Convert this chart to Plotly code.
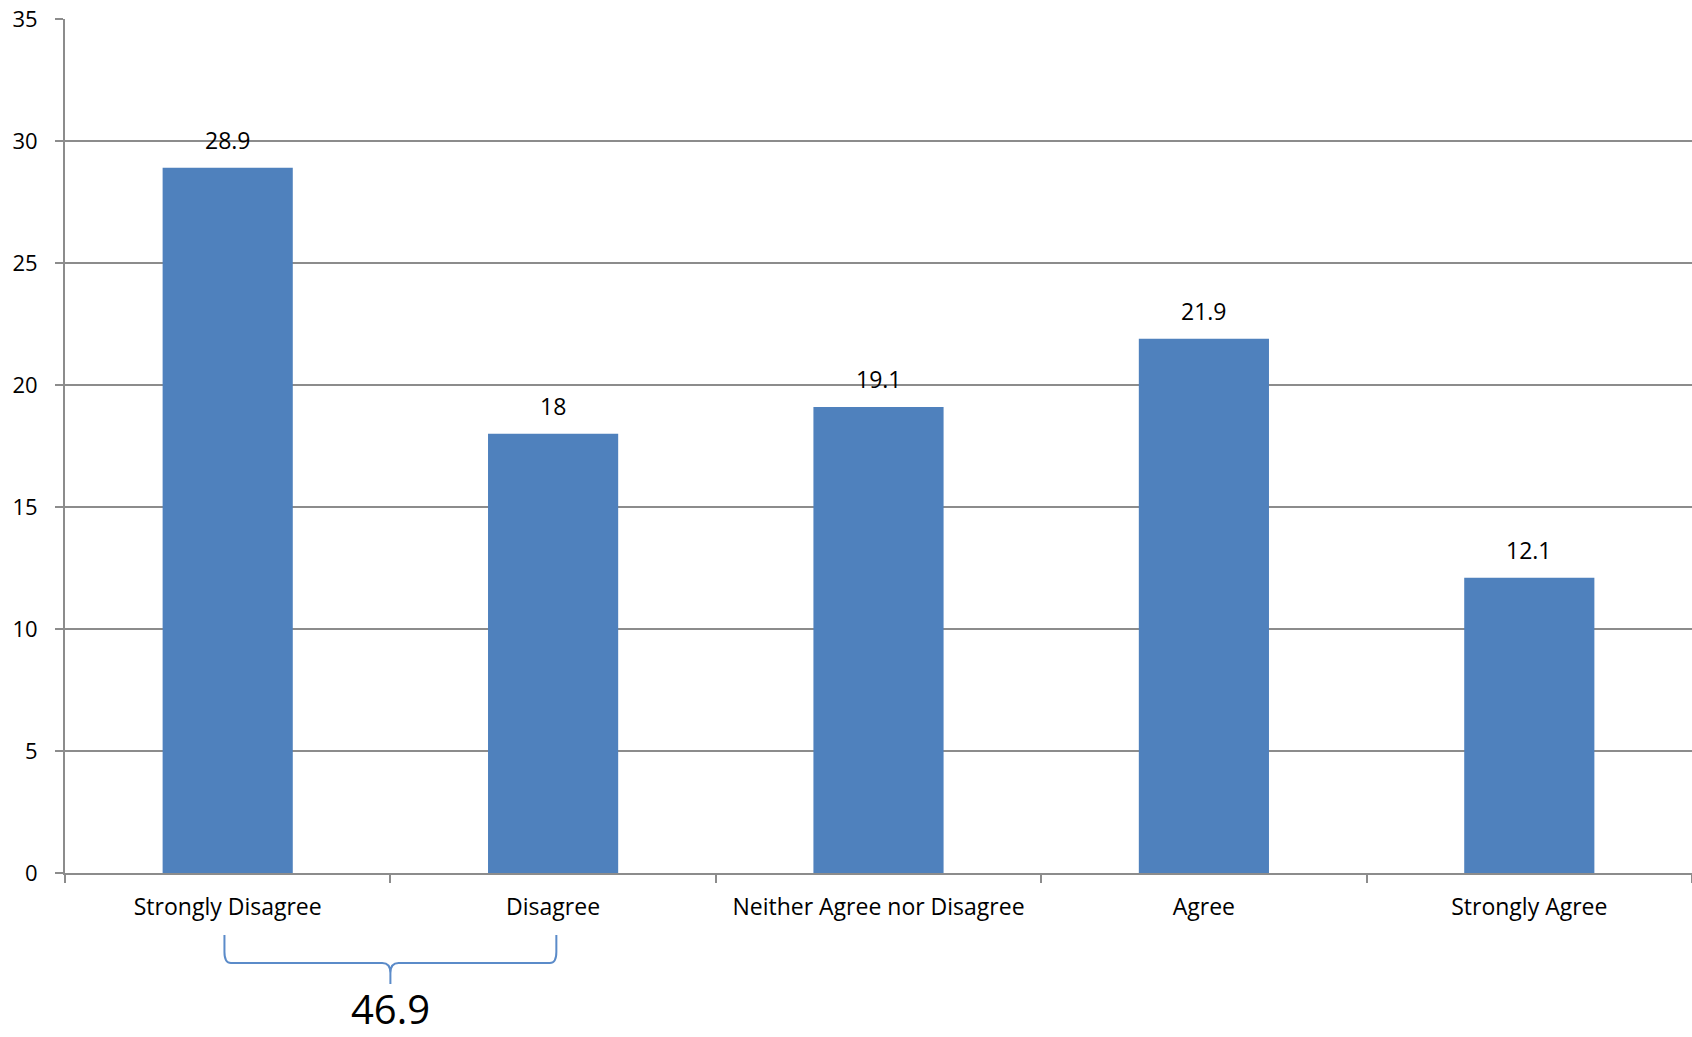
import plotly.graph_objects as go

# Survey response distribution (percent)
categories = ["Strongly Disagree", "Disagree", "Neither Agree nor Disagree", "Agree", "Strongly Agree"]
percentages = [28.9, 18, 19.1, 21.9, 12.1]
combined_label = "46.9"  # Strongly Disagree + Disagree
y_ticks = [0, 5, 10, 15, 20, 25, 30, 35]

W, H = 1692, 1037
M_L, M_R, M_T, M_B = 65, 0, 19, 164
plot_h = H - M_T - M_B

BAR_COLOR = "#4F81BD"
GRID_COLOR = "#8C8C8C"
FONT = "Open Sans"

def py(pix_below_axis):
    """Paper y coordinate for a pixel offset below the x axis."""
    return -pix_below_axis / plot_h

fig = go.Figure()
fig.add_trace(go.Bar(
    x=categories,
    y=percentages,
    marker=dict(color=BAR_COLOR, line=dict(width=0)),
    width=0.4,
    hoverinfo="x+y",
))

# Value labels above the bars
for c, v in zip(categories, percentages):
    fig.add_annotation(
        x=c, y=v, text=f"{v:g}", showarrow=False,
        yanchor="bottom", yshift=10,
        font=dict(family=FONT, size=23, color="#000000"),
    )

# Curly brace grouping the two disagree categories
x0, x1 = -0.01, 1.01
xc = 0.5
y_top, y_mid, y_bot = py(62), py(90), py(111)
dxe = 0.02
dxc = 0.025
r = py(79)
path = (
    f"M {x0},{y_top} L {x0},{r} Q {x0},{y_mid} {x0 + dxe},{y_mid} "
    f"L {xc - dxc},{y_mid} Q {xc},{y_mid} {xc},{py(100)} L {xc},{y_bot} "
    f"M {xc},{py(100)} Q {xc},{y_mid} {xc + dxc},{y_mid} "
    f"L {x1 - dxe},{y_mid} Q {x1},{y_mid} {x1},{r} L {x1},{y_top}"
)
fig.add_shape(
    type="path", path=path, xref="x", yref="paper",
    line=dict(color="#5B8BC9", width=2),
)
fig.add_annotation(
    x=xc, y=py(M_B), xref="x", yref="paper", text=combined_label,
    showarrow=False, yanchor="bottom", borderpad=0,
    font=dict(family=FONT, size=40, color="#000000"),
)

fig.update_layout(
    width=W, height=H,
    margin=dict(l=M_L, r=M_R, t=M_T, b=M_B, pad=0),
    paper_bgcolor="white", plot_bgcolor="white",
    showlegend=False,
    bargap=0.6,
    font=dict(family=FONT, size=22, color="#000000"),
)
fig.update_xaxes(
    range=[-0.5, 4.5],
    showline=True, linecolor=GRID_COLOR, linewidth=2,
    ticks="outside", ticklen=8, tickwidth=2, tickcolor=GRID_COLOR,
    tickson="boundaries", showgrid=False,
    ticklabelstandoff=12,
    tickfont=dict(family=FONT, size=23, color="#000000"),
)
fig.update_yaxes(
    range=[0, 35], tickvals=y_ticks,
    showline=True, linecolor=GRID_COLOR, linewidth=2,
    ticks="outside", ticklen=8, tickwidth=2, tickcolor=GRID_COLOR,
    showgrid=True, gridcolor=GRID_COLOR, gridwidth=1.5,
    zeroline=False,
    ticklabelstandoff=13,
    tickfont=dict(family=FONT, size=22, color="#000000"),
)

fig.write_html("out.html")
